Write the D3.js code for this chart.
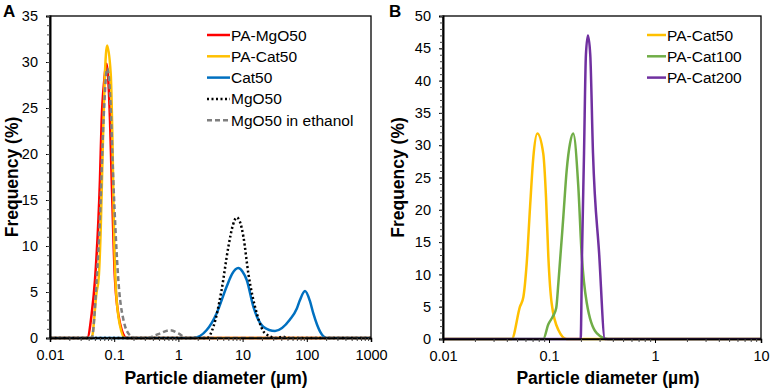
<!DOCTYPE html>
<html>
<head>
<meta charset="utf-8">
<script src="https://cdn.jsdelivr.net/npm/d3@7"></script>
<style>
  body { margin: 0; background: #fff; }
  text { font-family: "Liberation Sans", Arial, sans-serif; }
</style>
</head>
<body>
<svg id="chart"></svg>
<script>
// particle size (um) / frequency (%)
const paMgO50Size = [0.038, 0.0447, 0.0502, 0.060, 0.0638, 0.070, 0.076, 0.081, 0.086, 0.0914, 0.103, 0.123, 0.157];
const paMgO50Freq = [0, 2.7, 6.3, 17.2, 23.7, 28.0, 29.8, 28.0, 23.7, 17.2, 6.3, 1.6, 0];

const paCat50Size = [0.0445, 0.0532, 0.0573, 0.0616, 0.0663, 0.0712, 0.0776, 0.0883, 0.0937, 0.0986, 0.106, 0.1226, 0.147];
const paCat50Freq = [0, 5.0, 6.5, 11.7, 20.5, 28.2, 31.8, 28.7, 22.0, 12.7, 5.5, 1.4, 0];

const cat50Size = [1.7, 2.76, 3.95, 5.65, 6.9, 8.57, 10, 11.6, 14.7, 21, 32, 54.7, 70, 78, 93.8, 112, 126, 161, 204];
const cat50Freq = [0, 0.87, 2.7, 5.6, 7.0, 7.6, 7.2, 6.3, 3.4, 1.23, 0.76, 2.0, 3.2, 4.1, 5.1, 4.0, 2.7, 0.7, 0];

const mgO50Size = [2.8, 3.5, 4.7, 6.0, 7.08, 8.1, 9.12, 10.3, 12.3, 16.6, 22.4, 34, 42, 50];
const mgO50Freq = [0, 1.2, 5.2, 9.9, 12.3, 13.1, 12.6, 11.0, 7.0, 2.7, 0.5, 0, 0.15, 0];

const ethSize = [0.0447, 0.0533, 0.060, 0.068, 0.078, 0.087, 0.0968, 0.116, 0.139, 0.176, 0.22, 0.32, 0.5, 0.74, 1.0, 1.35];
const ethFreq = [0, 6.3, 13.0, 23.5, 29.3, 26.0, 17.2, 6.3, 2.0, 0.3, 0, 0, 0.45, 0.85, 0.5, 0];

const paCat100Size = [0.0883, 0.0986, 0.108, 0.117, 0.1226, 0.1365, 0.147, 0.158, 0.169, 0.189, 0.203, 0.227, 0.282, 0.36];
const paCat100Freq = [0, 2.3, 3.4, 4.8, 8.7, 18.9, 26.2, 30.3, 31.8, 23.6, 13.3, 5.6, 0.9, 0];

const paCat200Size = [0.199, 0.205, 0.214, 0.223, 0.233, 0.245, 0.26, 0.297, 0.337];
const paCat200Freq = [0, 13.3, 28.8, 44, 47, 44, 28.8, 13.3, 0];

const seriesA = [
  { name: 'PA-MgO50', size: paMgO50Size, freq: paMgO50Freq, color: '#ff0000', dash: null },
  { name: 'PA-Cat50', size: paCat50Size, freq: paCat50Freq, color: '#ffc000', dash: null },
  { name: 'Cat50', size: cat50Size, freq: cat50Freq, color: '#0070c0', dash: null },
  { name: 'MgO50', size: mgO50Size, freq: mgO50Freq, color: '#000000', dash: '2,2.5' },
  { name: 'MgO50 in ethanol', size: ethSize, freq: ethFreq, color: '#7f7f7f', dash: '5,3' },
];
const seriesB = [
  { name: 'PA-Cat50', size: paCat50Size, freq: paCat50Freq, color: '#ffc000', dash: null },
  { name: 'PA-Cat100', size: paCat100Size, freq: paCat100Freq, color: '#70ad47', dash: null },
  { name: 'PA-Cat200', size: paCat200Size, freq: paCat200Freq, color: '#7030a0', dash: null },
];

const xDecadesA = [0.01, 0.1, 1, 10, 100, 1000];
const xDecadesB = [0.01, 0.1, 1, 10];

const width = 772, height = 390;
const svg = d3.select('#chart').attr('width', width).attr('height', height);

function panel(opt) {
  const x = d3.scaleLog().domain([opt.decades[0], opt.decades[opt.decades.length - 1]]).range([opt.left, opt.right]);
  const y = d3.scaleLinear().domain([0, opt.ymax]).range([opt.bottom, opt.top]);
  const g = svg.append('g');

  // lines
  const line = d3.line().x((d) => x(d[0])).y((d) => y(d[1])).curve(d3.curveMonotoneX);
  opt.series.forEach((s) => {
    let pts = s.size.map((v, i) => [v, s.freq[i]]);
    pts = [[x.domain()[0], 0]].concat(pts, [[x.domain()[1], 0]]);
    g.append('path')
      .attr('d', line(pts))
      .attr('fill', 'none')
      .attr('stroke', s.color)
      .attr('stroke-width', 2.5)
      .attr('stroke-dasharray', s.dash)
      .attr('stroke-linejoin', 'round');
  });

  // frame
  g.append('rect')
    .attr('x', opt.left).attr('y', opt.top)
    .attr('width', opt.right - opt.left).attr('height', opt.bottom - opt.top)
    .attr('fill', 'none').attr('stroke', '#000').attr('stroke-width', 1.3);

  // y axis
  const yAxis = g.append('g').attr('transform', `translate(${opt.left},0)`)
    .call(d3.axisLeft(y).tickValues(d3.range(0, opt.ymax + 1, 5)).tickSize(4).tickPadding(8));
  yAxis.selectAll('text').style('font-size', '14.5px').style('font-family', '"Liberation Sans", Arial, sans-serif');
  yAxis.select('.domain').attr('stroke-width', 2);
  g.append('g').attr('transform', `translate(${opt.left},0)`)
    .call(d3.axisLeft(y).tickValues(d3.range(0, opt.ymax + 1, 1)).tickSize(3).tickFormat(''))
    .call((a) => a.select('.domain').remove())
    .selectAll('line').attr('stroke', '#444');

  // x axis
  const xAxis = g.append('g').attr('transform', `translate(0,${opt.bottom})`)
    .call(d3.axisBottom(x).tickValues(opt.decades).tickSize(4).tickPadding(8).tickFormat((d) => String(d)));
  xAxis.selectAll('text').style('font-size', '14.5px').style('font-family', '"Liberation Sans", Arial, sans-serif');
  xAxis.select('.domain').attr('stroke-width', 1.5);
  const minor = [];
  opt.decades.slice(0, -1).forEach((d) => { for (let k = 2; k <= 9; k++) minor.push(d * k); });
  g.append('g').attr('transform', `translate(0,${opt.bottom})`)
    .call(d3.axisBottom(x).tickValues(minor).tickSize(3).tickFormat(''))
    .call((a) => a.select('.domain').remove())
    .selectAll('line').attr('stroke', '#444');

  // axis titles
  g.append('text')
    .attr('transform', `translate(${opt.ylabX},${(opt.top + opt.bottom) / 2}) rotate(-90)`)
    .attr('text-anchor', 'middle').attr('dominant-baseline', 'central')
    .style('font-size', '17.5px').style('font-weight', 'bold')
    .text('Frequency (%)');
  g.append('text')
    .attr('x', opt.xlabX).attr('y', 384)
    .attr('text-anchor', 'middle')
    .style('font-size', '17.5px').style('font-weight', 'bold')
    .text('Particle diameter (µm)');
  g.append('text')
    .attr('x', opt.letterX).attr('y', 17)
    .style('font-size', '17px').style('font-weight', 'bold')
    .text(opt.letter);

  // legend
  opt.series.forEach((s, i) => {
    const ly = opt.legY + i * 21.3;
    g.append('line')
      .attr('x1', opt.legX).attr('x2', opt.legX + opt.legLen)
      .attr('y1', ly).attr('y2', ly)
      .attr('stroke', s.color).attr('stroke-width', 2.5)
      .attr('stroke-dasharray', s.dash);
    g.append('text')
      .attr('x', opt.legX + opt.legLen + 1).attr('y', ly)
      .attr('dominant-baseline', 'central')
      .style('font-size', '15.5px')
      .text(s.name);
  });
}

panel({ series: seriesA, decades: xDecadesA, ymax: 35, left: 50, right: 371, top: 16, bottom: 338,
  ylabX: 12, xlabX: 216, letter: 'A', letterX: 3, legX: 207, legLen: 23, legY: 35 });
panel({ series: seriesB, decades: xDecadesB, ymax: 50, left: 443, right: 761, top: 16, bottom: 339,
  ylabX: 398, xlabX: 608, letter: 'B', letterX: 389, legX: 647, legLen: 19, legY: 35 });
</script>
</body>
</html>
